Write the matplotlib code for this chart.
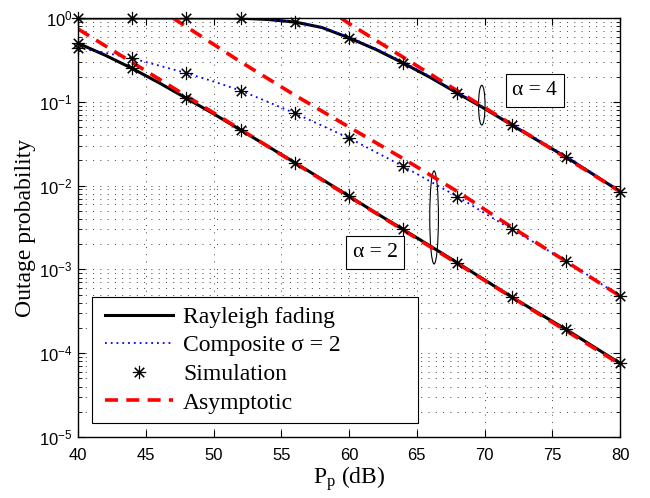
import numpy as np
import matplotlib
matplotlib.use('Agg')
import matplotlib.pyplot as plt
from matplotlib.patches import Ellipse, Rectangle
from matplotlib.ticker import LogLocator, FuncFormatter, NullFormatter, MultipleLocator

# simulation points (markers)
p_sim = [40, 44, 48, 52, 56, 60, 64, 68, 72, 76, 80]
ray4_sim = [1.0, 1.0, 1.0, 1.0, 0.895, 0.58, 0.29, 0.127, 0.053, 0.022, 0.0085]
ray2_sim = [0.5, 0.25, 0.11, 0.046, 0.0188, 0.0075, 0.003, 0.0012, 0.00047, 0.000193, 0.000076]
comp2_sim = [0.44, 0.33, 0.22, 0.136, 0.073, 0.037, 0.017, 0.0074, 0.003, 0.00127, 0.00048]

# analytical curves
p_line = list(range(40, 81, 2))
ray4_line = [1.0, 1.0, 1.0, 1.0, 1.0, 1.0, 0.995, 0.96, 0.895, 0.77, 0.58, 0.42, 0.29,
             0.195, 0.127, 0.083, 0.053, 0.034, 0.022, 0.0137, 0.0085]
comp4_line = [1.0, 1.0, 1.0, 1.0, 1.0, 1.0, 0.995, 0.965, 0.9, 0.78, 0.59, 0.43, 0.298,
              0.2, 0.13, 0.085, 0.054, 0.035, 0.0224, 0.014, 0.0086]
ray2_line = [0.5, 0.36, 0.25, 0.168, 0.11, 0.072, 0.046, 0.0295, 0.0188, 0.0119, 0.0075,
             0.0047, 0.003, 0.0019, 0.0012, 0.00075, 0.00047, 0.0003, 0.000193, 0.000121, 0.000076]
comp2_line = [0.44, 0.385, 0.33, 0.27, 0.22, 0.175, 0.136, 0.1, 0.073, 0.052, 0.037,
              0.025, 0.017, 0.0112, 0.0074, 0.0047, 0.003, 0.00195, 0.00127, 0.00078, 0.00048]

# asymptotes
p_asy4 = [59.4, 60, 64, 68, 72, 76, 80]
asy4 = [1.0, 0.86, 0.34, 0.135, 0.054, 0.0215, 0.0085]
p_asy2r = [40, 50, 60, 70, 80]
asy2_ray = [0.74, 0.074, 0.0074, 0.00074, 0.000074]
p_asy2c = [47.0, 52, 56, 60, 64, 68, 72, 76, 80]
asy2_comp = [1.0, 0.30, 0.12, 0.05, 0.021, 0.0085, 0.0032, 0.00125, 0.00048]

serif = 'Liberation Serif'
sans = 'Liberation Sans'
plt.rcParams['font.family'] = sans

fig = plt.figure(figsize=(6.5, 4.98), dpi=100)
ax = fig.add_axes([78/650, 1-437/498, 542/650, 419/498])

ax.plot(p_line, ray4_line, 'k-', lw=2.2)
ax.plot(p_line, ray2_line, 'k-', lw=2.2)
dots = (0, (1, 2.2))
ax.plot(p_line, comp4_line, color='b', lw=1.3, linestyle=dots)
ax.plot(p_line, comp2_line, color='b', lw=1.3, linestyle=dots)
dash = (0, (3.6, 2.3))
ax.plot(p_asy4, asy4, color='r', lw=2.6, linestyle=dash)
ax.plot(p_asy2r, asy2_ray, color='r', lw=2.6, linestyle=dash)
ax.plot(p_asy2c, asy2_comp, color='r', lw=2.6, linestyle=dash)

star = (8, 2, 0)
for ys in [ray4_sim, ray2_sim, comp2_sim]:
    ax.plot(p_sim, ys, linestyle='none', marker=star, ms=9.5, mew=0.8,
            color='k', clip_on=False, zorder=5)

ax.set_yscale('log')
ax.set_xlim(40, 80)
ax.set_ylim(1e-5, 1)
ax.xaxis.set_major_locator(MultipleLocator(5))
ax.yaxis.set_major_locator(LogLocator(base=10, numticks=10))
ax.yaxis.set_minor_locator(LogLocator(base=10, subs=np.arange(2, 10), numticks=20))
ax.yaxis.set_minor_formatter(NullFormatter())
ax.yaxis.set_major_formatter(FuncFormatter(lambda v, pos: r'$\mathregular{10^{%d}}$' % round(np.log10(v))))

ax.tick_params(which='both', direction='in', top=True, right=True, labelsize=12)
ax.tick_params(which='major', length=5, width=0.8)
ax.tick_params(which='minor', length=3, width=0.6)
ax.tick_params(axis='x', pad=8)
ax.tick_params(axis='y', pad=4)

gs = dict(color='0.25', lw=0.7, linestyle=(0, (1, 6.5)))
ax.grid(True, which='major', axis='both', **gs)
ax.grid(True, which='minor', axis='y', **gs)
for s in ax.spines.values():
    s.set_linewidth(1.0)

ax.set_xlabel(r'$\mathregular{P_p}$ (dB)', fontfamily=serif, fontsize=17)
ax.xaxis.set_label_coords(0.5, -0.065)
ax.set_ylabel('Outage probability', fontfamily=serif, fontsize=17)
ax.yaxis.set_label_coords(-0.078, 0.5)

# annotations
ax.add_patch(Ellipse((0.745, 0.792), 0.012, 0.095, transform=ax.transAxes,
                     fill=False, ec='k', lw=0.8))
ax.add_patch(Ellipse((0.657, 0.524), 0.016, 0.222, transform=ax.transAxes,
                     fill=False, ec='k', lw=0.8))
bbox = dict(boxstyle='square,pad=0.32', fc='white', ec='k', lw=0.8)
ax.text(0.843, 0.827, u'\u03b1 = 4', transform=ax.transAxes, fontfamily=serif,
        fontsize=15.5, ha='center', va='center', bbox=bbox, zorder=6)
ax.text(0.548, 0.440, u'\u03b1 = 2', transform=ax.transAxes, fontfamily=serif,
        fontsize=15.5, ha='center', va='center', bbox=bbox, zorder=6)

# legend: frame drawn separately to match the wide box
fig.patches.append(Rectangle((92/650, 1-423/498), 326/650, 126/498, transform=fig.transFigure,
                             fc='white', ec='k', lw=0.8, zorder=6))
handles = [
    plt.Line2D([], [], color='k', lw=2.2, label='Rayleigh fading'),
    plt.Line2D([], [], color='b', lw=1.3, linestyle=dots, label=u'Composite \u03c3 = 2'),
    plt.Line2D([], [], color='k', marker=star, ms=9.5, mew=0.8, linestyle='none', label='Simulation'),
    plt.Line2D([], [], color='r', lw=2.6, linestyle=dash, label='Asymptotic'),
]
leg = fig.legend(handles=handles, loc='center left', bbox_to_anchor=(105/650, 1-360/498),
                 borderaxespad=0, frameon=False, handlelength=2.9, handletextpad=0.4,
                 borderpad=0, labelspacing=0.3, prop={'family': serif, 'size': 17})
leg.set_zorder(7)

fig.savefig('out.png', dpi=100)
